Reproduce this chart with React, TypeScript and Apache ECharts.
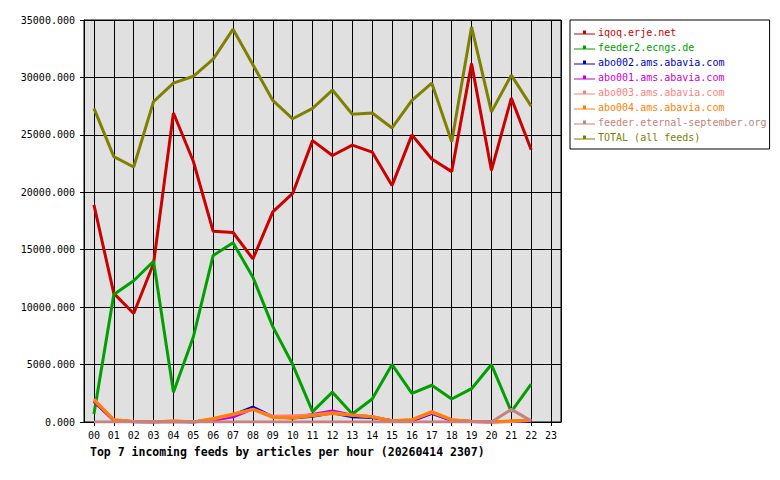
import React, { useEffect, useRef } from 'react';
import * as echarts from 'echarts';

const hours = ['00', '01', '02', '03', '04', '05', '06', '07', '08', '09', '10', '11',
  '12', '13', '14', '15', '16', '17', '18', '19', '20', '21', '22', '23'];

const iqoq = [18900, 11200, 9450, 13800, 26900, 22700, 16600, 16500, 14200, 18300, 19900, 24500,
  23200, 24100, 23500, 20600, 25000, 22900, 21800, 31200, 21900, 28200, 23700];
const feeder2 = [700, 11100, 12300, 14000, 2600, 7400, 14500, 15600, 12600, 8300, 5000, 900,
  2600, 700, 2000, 5000, 2500, 3200, 2000, 2900, 5000, 900, 3300];
const abo002 = [1800, 150, 30, 0, 50, 0, 200, 600, 1300, 450, 350, 500,
  800, 450, 400, 100, 100, 750, 150, 50, 0, 50, 100];
const abo001 = [1800, 150, 30, 0, 50, 0, 150, 450, 1150, 450, 400, 650,
  950, 600, 450, 100, 150, 800, 150, 50, 0, 50, 100];
const abo003 = [2000, 200, 50, 0, 50, 0, 250, 650, 1100, 500, 550, 600,
  800, 600, 450, 100, 200, 850, 200, 50, 0, 50, 150];
const abo004 = [1900, 200, 50, 0, 100, 0, 300, 700, 1100, 400, 350, 550,
  750, 580, 460, 100, 200, 900, 200, 50, 0, 100, 150];
const eternal = [0, 0, 0, 0, 0, 0, 0, 0, 0, 0, 0, 0,
  0, 0, 0, 0, 0, 0, 0, 0, 0, 1100, 100];
const total = [27300, 23100, 22200, 27900, 29500, 30100, 31600, 34200, 31100, 28000, 26400, 27300,
  28900, 26800, 26900, 25600, 28000, 29500, 24400, 34400, 27000, 30200, 27500];

const feeds = [
  { name: 'iqoq.erje.net', color: '#cc0000', data: iqoq },
  { name: 'feeder2.ecngs.de', color: '#00a000', data: feeder2 },
  { name: 'abo002.ams.abavia.com', color: '#0000cc', data: abo002 },
  { name: 'abo001.ams.abavia.com', color: '#cc00cc', data: abo001 },
  { name: 'abo003.ams.abavia.com', color: '#ff8080', data: abo003 },
  { name: 'abo004.ams.abavia.com', color: '#ff8000', data: abo004 },
  { name: 'feeder.eternal-september.org', color: '#c88080', data: eternal },
  { name: 'TOTAL (all feeds)', color: '#808000', data: total },
];

const mono = 'DejaVu Sans Mono';

const App: React.FC = () => {
  const chartRef = useRef<HTMLDivElement | null>(null);

  useEffect(() => {
    const chart = echarts.init(chartRef.current!, null, { renderer: 'svg' });

    // half-hour helper axis: its odd band edges fall on the hour labels,
    // so its split lines give the vertical grid through each hour
    const halfHours = hours.flatMap((h) => [h + 'a', h + 'b']);

    const option = {
      animation: false,
      title: {
        text: 'Top 7 incoming feeds by articles per hour (20260414 2307)',
        left: 90,
        top: 446,
        padding: 0,
        textStyle: { fontFamily: mono, fontSize: 11.5, fontWeight: 'bold', color: '#000' },
      },
      legend: {
        orient: 'vertical',
        left: 570,
        top: 20,
        padding: [5, 3, 4, 4],
        itemGap: 0,
        itemWidth: 21,
        itemHeight: 5,
        borderColor: '#000',
        borderWidth: 1,
        backgroundColor: '#fff',
        icon: 'path://M0,4 L21,4 L21,5 L0,5 Z M9,1 L12,1 L12,5 L9,5 Z',
        data: feeds.map((f) => ({
          name: f.name,
          textStyle: { color: f.color },
        })),
        textStyle: { fontFamily: mono, fontSize: 10, lineHeight: 15, padding: [0, 0, 0, -2] },
      },
      grid: {
        left: 84,
        top: 20,
        width: 477,
        height: 402,
        show: true,
        backgroundColor: '#e0e0e0',
        borderColor: '#000',
        borderWidth: 1,
      },
      xAxis: [
        {
          type: 'category',
          data: hours,
          boundaryGap: true,
          axisLine: { show: true, lineStyle: { color: '#000' } },
          axisTick: { show: true, alignWithLabel: true, length: 4, lineStyle: { color: '#000' } },
          splitLine: { show: false },
          axisLabel: { fontFamily: mono, fontSize: 10, color: '#000', margin: 8, interval: 0 },
        },
        {
          type: 'category',
          data: halfHours,
          position: 'bottom',
          boundaryGap: true,
          axisLine: { show: false },
          axisTick: { show: false },
          axisLabel: { show: false },
          splitLine: {
            show: true,
            interval: (index: number) => index % 2 === 1,
            lineStyle: { color: '#000', width: 1 },
          },
        },
      ],
      yAxis: {
        type: 'value',
        min: 0,
        max: 35000,
        interval: 5000,
        axisLine: { show: true, lineStyle: { color: '#000' } },
        axisTick: { show: true, length: 4, lineStyle: { color: '#000' } },
        splitLine: { show: true, lineStyle: { color: '#000', width: 1 } },
        axisLabel: {
          fontFamily: mono,
          fontSize: 10,
          color: '#000',
          margin: 9,
          formatter: (v: number) => v.toFixed(3),
        },
      },
      series: feeds.map((f) => ({
        name: f.name,
        type: 'line',
        data: f.data,
        symbol: 'none',
        color: f.color,
        lineStyle: { color: f.color, width: 3 },
      })),
    };

    chart.setOption(option);

    return () => {
      chart.dispose();
    };
  }, []);

  return (
    <div
      ref={chartRef}
      style={{ position: 'fixed', left: 0, top: 0, width: '780px', height: '480px', background: '#fff' }}
    />
  );
};

export default App;
